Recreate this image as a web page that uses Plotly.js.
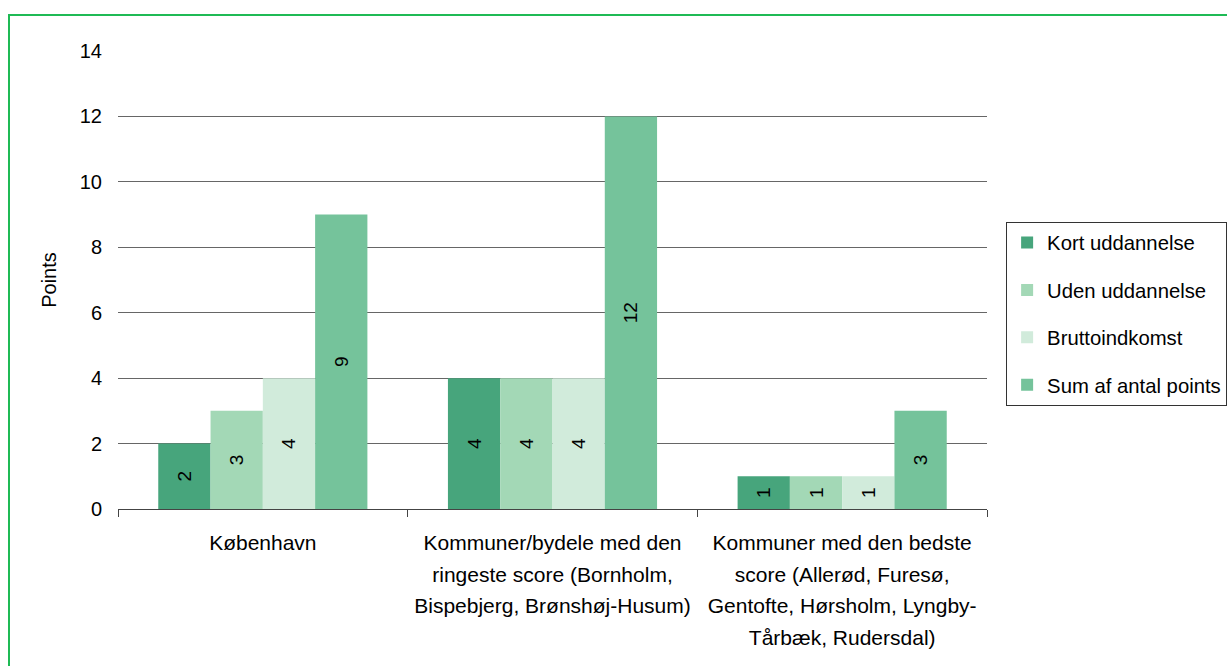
<!DOCTYPE html>
<html>
<head>
<meta charset="utf-8">
<script src="https://cdn.plot.ly/plotly-3.0.1.min.js"></script>
<style>
html,body{margin:0;padding:0;background:#fff;overflow:hidden;}
#chart{width:1227px;height:666px;}
#frame{position:absolute;left:8px;top:14px;width:1240px;height:700px;border:2px solid #1fba55;box-sizing:border-box;pointer-events:none;}
</style>
</head>
<body>
<div id="chart"></div>
<div id="frame"></div>
<script>
const categories = [
  "København",
  "Kommuner/bydele med den<br>ringeste score (Bornholm,<br>Bispebjerg, Brønshøj-Husum)",
  "Kommuner med den bedste<br>score (Allerød, Furesø,<br>Gentofte, Hørsholm, Lyngby-<br>Tårbæk, Rudersdal)"
];
const seriesNames = ["Kort uddannelse", "Uden uddannelse", "Bruttoindkomst", "Sum af antal points"];
const kortUddannelse = [2, 4, 1];
const udenUddannelse = [3, 4, 1];
const bruttoindkomst = [4, 4, 1];
const sumPoints = [9, 12, 3];
const colors = ["#47a57c", "#a3d8b6", "#d1ebdb", "#75c39b"];
const yTicks = [0, 2, 4, 6, 8, 10, 12, 14];

const values = [kortUddannelse, udenUddannelse, bruttoindkomst, sumPoints];
const fam = "Liberation Sans, Arial, sans-serif";
const font = {family: fam, size: 21, color: "#000"};
const legendFont = {family: fam, size: 20.3, color: "#000"};
const yFont = {family: fam, size: 20, color: "#000"};
const barFont = {family: fam, size: 19, color: "#000"};
// larger container font gives wider line spacing; spans keep glyph size
const xTickFont = {family: fam, size: 24.6, color: "#000"};
const xTickText = categories.map(c => c.split("<br>").map(l => '<span style="font-size:21px">' + l + '</span>').join("<br>"));

const traces = values.map((v, i) => ({
  type: "bar",
  name: seriesNames[i],
  x: categories,
  y: v,
  text: v.map(String),
  textposition: "inside",
  insidetextanchor: "middle",
  textangle: -90,
  textfont: barFont,
  constraintext: "none",
  marker: {color: colors[i], line: {width: 0}},
  legendgroup: "g" + i,
  hoverinfo: "x+y+name"
}));

const layout = {
  width: 1227,
  height: 666,
  margin: {l: 118, r: 240, t: 51, b: 157, autoexpand: false},
  paper_bgcolor: "#fff",
  plot_bgcolor: "#fff",
  font: font,
  barmode: "group",
  bargap: 0.278,
  bargroupgap: 0,
  showlegend: true,
  legend: {
    x: 1.022, xanchor: "left",
    y: 0.627, yanchor: "top",
    bordercolor: "#333", borderwidth: 1,
    bgcolor: "#fff",
    font: legendFont,
    tracegroupgap: 18,
    itemclick: false
  },
  xaxis: {
    type: "category",
    tickvals: categories,
    ticktext: xTickText,
    tickson: "boundaries",
    ticks: "outside",
    ticklen: 7,
    tickcolor: "#444",
    showline: true,
    linecolor: "#444",
    linewidth: 1,
    showgrid: false,
    tickfont: xTickFont,
    ticklabelstandoff: 10,
    automargin: false
  },
  yaxis: {
    range: [0, 14],
    tickvals: yTicks,
    ticktext: yTicks.map(String),
    showgrid: true,
    gridcolor: "#666",
    gridwidth: 1,
    zeroline: false,
    showline: false,
    ticks: "",
    ticklabelstandoff: 15,
    tickfont: yFont,
    title: {text: "Points", font: yFont, standoff: 17},
    automargin: false
  }
};

Plotly.newPlot("chart", traces, layout, {displayModeBar: false, staticPlot: true});
</script>
</body>
</html>
